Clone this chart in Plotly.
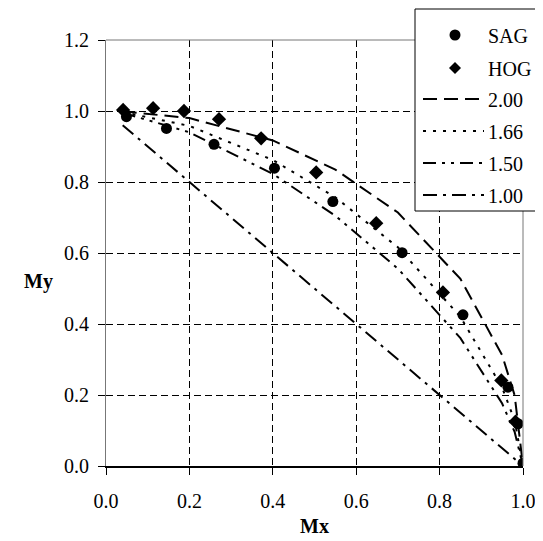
import plotly.graph_objects as go

# ---- data ----
sag_x = [0.049, 0.145, 0.259, 0.404, 0.544, 0.710, 0.856, 0.964, 0.988, 1.000]
sag_y = [0.984, 0.951, 0.906, 0.839, 0.745, 0.601, 0.426, 0.222, 0.119, 0.008]

hog_x = [0.041, 0.113, 0.187, 0.271, 0.372, 0.504, 0.648, 0.808, 0.948, 0.982]
hog_y = [1.003, 1.008, 1.000, 0.977, 0.923, 0.827, 0.684, 0.489, 0.241, 0.125]

curve_x = [0.04, 0.20, 0.40, 0.55, 0.70, 0.85, 0.95, 0.98, 1.00]
n200_y = [0.999, 0.980, 0.917, 0.835, 0.714, 0.527, 0.312, 0.199, 0.000]
n166_y = [0.997, 0.958, 0.862, 0.757, 0.616, 0.420, 0.221, 0.128, 0.000]
n150_y = [0.995, 0.940, 0.823, 0.705, 0.556, 0.360, 0.176, 0.096, 0.000]
n100_x = [0.04, 1.00]
n100_y = [0.96, 0.00]

series_names = ["SAG", "HOG", "2.00", "1.66", "1.50", "1.00"]

tick_vals_x = [0.0, 0.2, 0.4, 0.6, 0.8, 1.0]
tick_text_x = ["0.0", "0.2", "0.4", "0.6", "0.8", "1.0"]
tick_vals_y = [0.0, 0.2, 0.4, 0.6, 0.8, 1.0, 1.2]
tick_text_y = ["0.0", "0.2", "0.4", "0.6", "0.8", "1.0", "1.2"]

FONT = "Liberation Serif"
FS = 20
W, H = 543, 541
ML, MR, MT, MB = 98, 28, 32, 83
PW, PH = W - ML - MR, H - MT - MB

DASHES = {"2.00": "14px,7px", "1.66": "3px,7px",
          "1.50": "13px,6px,3px,6px,3px,6px", "1.00": "14px,6px,3px,6px"}


def px(xp):
    return (xp - ML) / PW


def py(yp):
    return (H - MB - yp) / PH


fig = go.Figure()
fig.add_trace(go.Scatter(x=sag_x, y=sag_y, mode="markers", name=series_names[0],
                         marker=dict(symbol="circle", size=11, color="black")))
fig.add_trace(go.Scatter(x=hog_x, y=hog_y, mode="markers", name=series_names[1],
                         marker=dict(symbol="diamond", size=11, color="black")))
fig.add_trace(go.Scatter(x=curve_x, y=n200_y, mode="lines", name=series_names[2],
                         line=dict(color="black", width=2, dash=DASHES["2.00"])))
fig.add_trace(go.Scatter(x=curve_x, y=n166_y, mode="lines", name=series_names[3],
                         line=dict(color="black", width=2, dash=DASHES["1.66"])))
fig.add_trace(go.Scatter(x=curve_x, y=n150_y, mode="lines", name=series_names[4],
                         line=dict(color="black", width=2, dash=DASHES["1.50"])))
fig.add_trace(go.Scatter(x=n100_x, y=n100_y, mode="lines", name=series_names[5],
                         line=dict(color="black", width=2, dash=DASHES["1.00"])))

# ---- hand-drawn legend (box, samples, labels) ----
shapes = [
    dict(type="line", xref="paper", yref="paper", x0=0, x1=1, y0=1, y1=1,
         line=dict(color="#777", width=1)),
    dict(type="line", xref="paper", yref="paper", x0=1, x1=1, y0=0, y1=1,
         line=dict(color="#777", width=1)),
    dict(type="rect", xref="paper", yref="paper", layer="above",
         x0=px(407), x1=px(537), y0=py(203), y1=py(1),
         fillcolor="white", line=dict(color="black", width=1)),
]
annotations = []
entry_y = [27, 60, 91, 123, 155, 187]
mx_c = 447
for name, ey in zip(series_names, entry_y):
    annotations.append(dict(text=name, xref="paper", yref="paper", x=px(478), y=py(ey + 1),
                            xanchor="left", yanchor="middle", showarrow=False,
                            font=dict(family=FONT, size=FS)))
    if name == "SAG":
        r = 5.5
        shapes.append(dict(type="circle", xref="paper", yref="paper", layer="above",
                           x0=px(mx_c - r), x1=px(mx_c + r), y0=py(ey + r), y1=py(ey - r),
                           fillcolor="black", line=dict(color="black", width=0)))
    elif name == "HOG":
        d = 6
        path = "M {},{} L {},{} L {},{} L {},{} Z".format(
            px(mx_c), py(ey - d), px(mx_c + d), py(ey), px(mx_c), py(ey + d), px(mx_c - d), py(ey))
        shapes.append(dict(type="path", path=path, xref="paper", yref="paper", layer="above",
                           fillcolor="black", line=dict(color="black", width=0)))
    else:
        shapes.append(dict(type="line", xref="paper", yref="paper", layer="above",
                           x0=px(415), x1=px(476), y0=py(ey), y1=py(ey),
                           line=dict(color="black", width=2, dash=DASHES[name])))

annotations += [
    dict(text="<b>Mx</b>", xref="paper", yref="paper", x=0.5, y=-0.142,
         xanchor="center", yanchor="middle", showarrow=False,
         font=dict(family=FONT, size=FS)),
    dict(text="<b>My</b>", xref="paper", yref="paper", x=-0.163, y=0.432,
         xanchor="center", yanchor="middle", showarrow=False,
         font=dict(family=FONT, size=FS)),
]

fig.update_layout(
    width=W, height=H,
    margin=dict(l=ML, r=MR, t=MT, b=MB, autoexpand=False),
    paper_bgcolor="white", plot_bgcolor="white",
    font=dict(family=FONT, size=FS, color="black"),
    showlegend=False,
    xaxis=dict(range=[0, 1.0], tickvals=tick_vals_x, ticktext=tick_text_x,
               showgrid=True, gridcolor="black", griddash="7px,4px", gridwidth=1,
               zeroline=False, showline=True, linecolor="black", linewidth=2,
               mirror=False, ticks="outside", ticklen=7, tickcolor="black",
               ticklabelstandoff=9,
               tickfont=dict(family=FONT, size=FS)),
    yaxis=dict(range=[0, 1.2], tickvals=tick_vals_y, ticktext=tick_text_y,
               showgrid=True, gridcolor="black", griddash="7px,4px", gridwidth=1,
               zeroline=False, showline=True, linecolor="#777", linewidth=1,
               mirror=False, ticks="outside", ticklen=7, tickcolor="black",
               ticklabelstandoff=5,
               tickfont=dict(family=FONT, size=FS)),
    shapes=shapes,
    annotations=annotations,
)

fig.write_html("out.html")
